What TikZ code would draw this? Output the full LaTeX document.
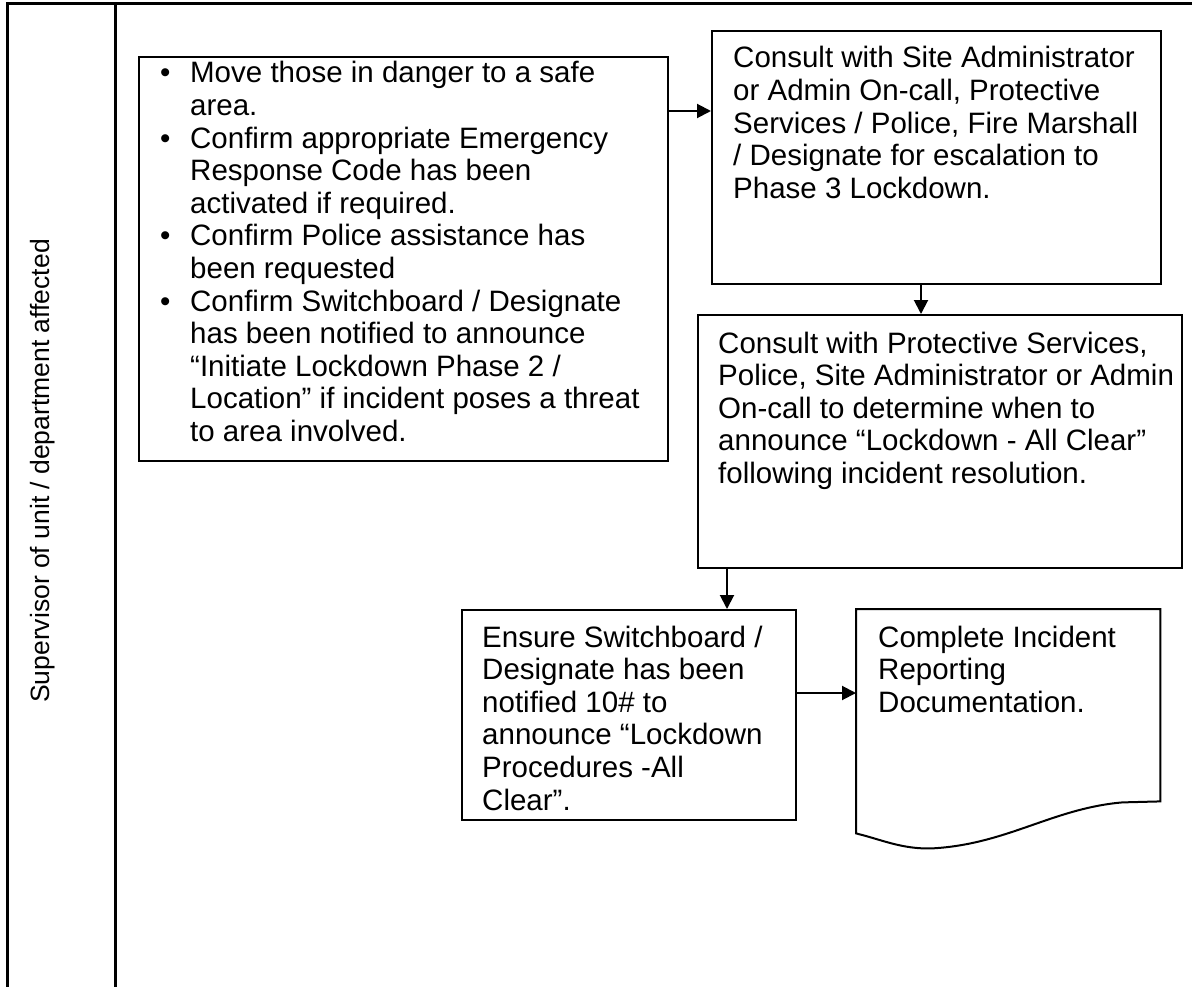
\documentclass[tikz,border=0pt]{standalone}
\usepackage{fontspec}
\setmainfont{Liberation Sans}
\usetikzlibrary{arrows.meta,calc}
\begin{document}
\begin{tikzpicture}[x=1pt,y=-1pt,
  frame/.style={line width=3pt},
  box/.style={draw,line width=2pt,inner sep=0pt,anchor=north west},
  txt/.style={inner sep=0pt,anchor=base west,font=\fontsize{29.5}{32.6}\selectfont},
  arr/.style={line width=2pt,-{Triangle[length=14pt,width=14pt]}},
]
\useasboundingbox (0,0) rectangle (1192,987);

% swimlane frame
\draw[frame] (7,987) -- (7,4) -- (1192,4);
\draw[frame] (115,4) -- (115,987);
\node[inner sep=0pt,rotate=90,anchor=base,font=\fontsize{26.5}{30}\selectfont] (lane) at (49,471) {Supervisor of unit / department affected};

% immediate actions
\node[box,minimum width=529pt,minimum height=404pt] (b1) at (138,56) {};
\node[txt] (t1) at (160,83) {\parbox[t]{500pt}{\raggedright
\makebox[30pt][l]{•}Move those in danger to a safe\\
\hspace*{30pt}area.\\
\makebox[30pt][l]{•}Confirm appropriate Emergency\\
\hspace*{30pt}Response Code has been\\
\hspace*{30pt}activated if required.\\
\makebox[30pt][l]{•}Confirm Police assistance has\\
\hspace*{30pt}been requested\\
\makebox[30pt][l]{•}Confirm Switchboard / Designate\\
\hspace*{30pt}has been notified to announce\\
\hspace*{30pt}“Initiate Lockdown Phase 2 /\\
\hspace*{30pt}Location” if incident poses a threat\\
\hspace*{30pt}to area involved.}};

% escalation consult
\node[box,minimum width=449pt,minimum height=253pt] (b2) at (711,30) {};
\node[txt] (t2) at (733,68) {\parbox[t]{420pt}{\raggedright
Consult with Site Administrator\\
or Admin On-call, Protective\\
Services / Police, Fire Marshall\\
/ Designate for escalation to\\
Phase 3 Lockdown.}};

% all clear consult
\node[box,minimum width=484pt,minimum height=253pt] (b3) at (697,314) {};
\node[txt] (t3) at (718,353) {\parbox[t]{460pt}{\raggedright
Consult with Protective Services,\\
Police, Site Administrator or Admin\\
On-call to determine when to\\
announce “Lockdown - All Clear”\\
following incident resolution.}};

% switchboard notification
\node[box,minimum width=334pt,minimum height=210pt] (b4) at (461,609) {};
\node[txt] (t4) at (482,647) {\parbox[t]{310pt}{\raggedright
Ensure Switchboard /\\
Designate has been\\
notified 10\# to\\
announce “Lockdown\\
Procedures -All\\
Clear”.}};

% incident documentation (document shape)
\node[inner sep=0pt,anchor=north west,minimum width=304pt,minimum height=192pt] (doc) at (856,609) {};
\draw[line width=2pt,line join=miter]
  (doc.north west) -- (doc.north east) -- (doc.south east)
  -- ++(-38,1) .. controls ++(-70,6) and ++(75,-4) .. ($(doc.south west)+(76,47)$)
  .. controls ++(-30,1) and ++(25,6) .. ($(doc.south west)+(0,32)$) -- cycle;
\node[txt] (t5) at (878,647) {\parbox[t]{280pt}{\raggedright
Complete Incident\\
Reporting\\
Documentation.}};

% connectors
\draw[arr] ($(b1.north east)+(0,55)$) coordinate (a1) -- (a1 -| b2.west);
\draw[arr] ($(b2.south west)+(210,0)$) coordinate (a2) -- (a2 |- b3.north);
\draw[arr] ($(b3.south west)+(30,0)$) coordinate (a3) -- (a3 |- b4.north);
\draw[arr] ($(b4.north east)+(0,84)$) coordinate (a4) -- (a4 -| doc.west);
\end{tikzpicture}
\end{document}
